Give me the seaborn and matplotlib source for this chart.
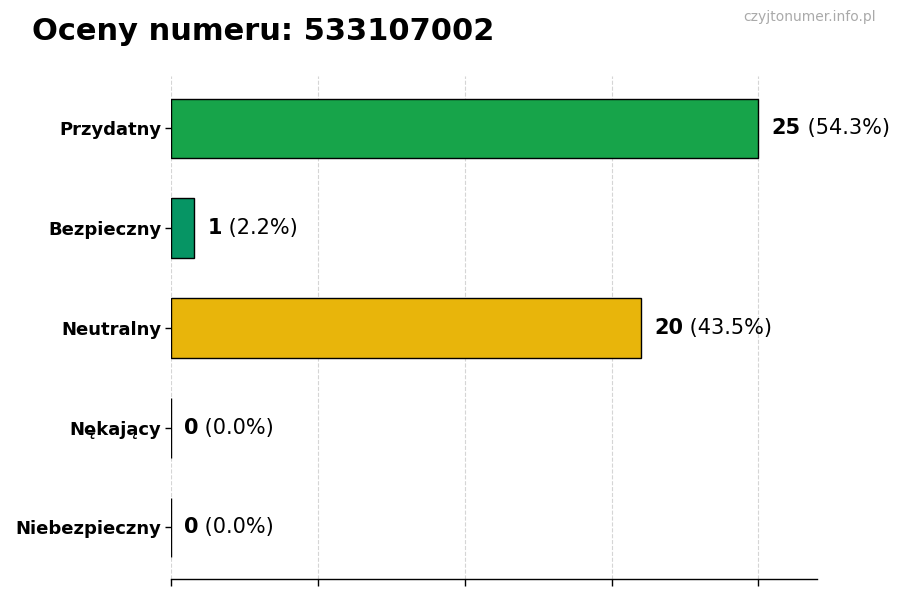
import matplotlib
matplotlib.use("Agg")
import matplotlib.pyplot as plt
import seaborn as sns
import pandas as pd

categories = ["Przydatny", "Bezpieczny", "Neutralny", "Nękający", "Niebezpieczny"]
counts = [25, 1, 20, 0, 0]
colors = ["#17a44a", "#069564", "#e8b50b", "#e67e22", "#c0392b"]
title = "Oceny numeru: 533107002"
watermark = "czyjtonumer.info.pl"

sns.set_theme(style="white")
plt.rcParams['font.family'] = ['DejaVu Sans']
plt.rcParams['text.color'] = 'black'
plt.rcParams['ytick.color'] = 'black'
plt.rcParams['xtick.color'] = 'black'

df = pd.DataFrame({"cat": categories, "n": counts})
fig = plt.figure(figsize=(9, 6), dpi=100)
ax = fig.add_axes([0.19, 0.0345, 0.718, 0.8395])

sns.barplot(data=df, y="cat", x="n", hue="cat", palette=colors, order=categories,
            hue_order=categories, orient="h", width=0.6, edgecolor="black",
            linewidth=1, saturation=1, legend=False, ax=ax)

maxv = max(counts)
ax.set_xlim(0, maxv * 1.1)
ax.set_ylim(len(categories) - 0.48, -0.53)
ax.set_xticks([maxv * i / 4 for i in range(5)])
ax.set_xticklabels([])
ax.tick_params(axis="x", bottom=True, length=5, width=1, color="black")
ax.tick_params(axis="y", left=True, length=4, width=1, color="black", pad=3,
               labelcolor="black")
ax.set_xlabel("")
ax.set_ylabel("")
for lbl in ax.get_yticklabels():
    lbl.set_fontweight("bold")
    lbl.set_fontsize(13)
ax.grid(axis="x", linestyle="--", color="#d5d5d5", linewidth=0.8)
ax.set_axisbelow(True)
for s in ["top", "right", "left"]:
    ax.spines[s].set_visible(False)
ax.spines["bottom"].set_color("black")
ax.spines["bottom"].set_linewidth(1)

total = sum(counts)
for i, v in enumerate(counts):
    pct = 100 * v / total if total else 0
    t = ax.text(v + maxv * 0.022, i, str(v), fontsize=15, fontweight="bold",
                va="center", ha="left", color="black")
    ax.annotate(f" ({pct:.1f}%)", xy=(1, 0.5), xycoords=t, fontsize=15,
                va="center", ha="left", color="black")

fig.text(0.036, 0.947, title, fontsize=22, fontweight="bold", ha="left", va="center",
         color="black")
fig.text(0.973, 0.971, watermark, fontsize=10, color="#aaaaaa", ha="right", va="center")

fig.savefig("out.png", dpi=100)
